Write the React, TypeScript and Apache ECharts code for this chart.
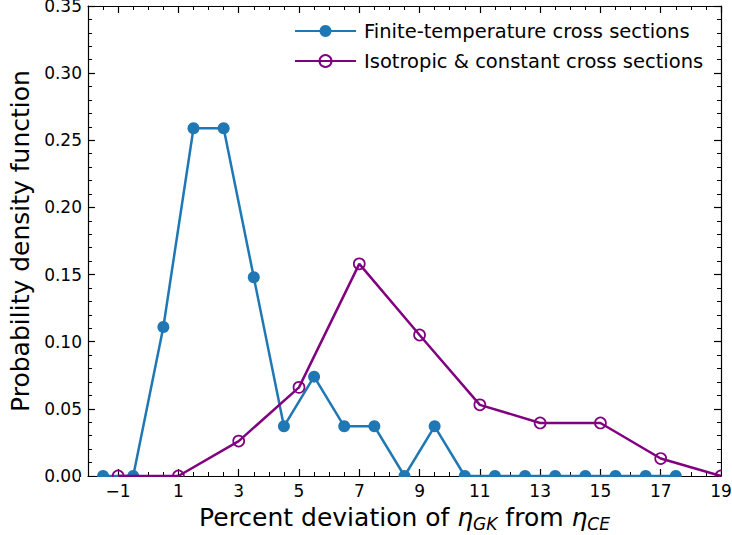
import React, { useEffect, useRef } from 'react';
import * as echarts from 'echarts';

const finiteX = [-1.5, -0.5, 0.5, 1.5, 2.5, 3.5, 4.5, 5.5, 6.5, 7.5, 8.5, 9.5, 10.5, 11.5, 12.5, 13.5, 14.5, 15.5, 16.5, 17.5];
const finiteY = [0, 0, 0.111, 0.259, 0.259, 0.148, 0.037, 0.074, 0.037, 0.037, 0, 0.037, 0, 0, 0, 0, 0, 0, 0, 0];
const isoX = [-1, 1, 3, 5, 7, 9, 11, 13, 15, 17, 19];
const isoY = [0, 0, 0.026, 0.066, 0.158, 0.105, 0.053, 0.0395, 0.0395, 0.013, 0];
const xTickLabels = [-1, 1, 3, 5, 7, 9, 11, 13, 15, 17, 19];

const FONT = 'DejaVu Sans';
const BLUE = '#1f77b4';
const PURPLE = '#800080';

export default function App() {
  const ref = useRef<HTMLDivElement>(null);
  useEffect(() => {
    if (!ref.current) return;
    const chart = echarts.init(ref.current, undefined, { renderer: 'svg' });
    const majorX = (position: 'bottom' | 'top', labels: boolean) => ({
      type: 'value',
      position,
      min: -2,
      max: 19,
      interval: 1,
      axisLine: { show: true, onZero: false, lineStyle: { color: '#000', width: 1.2 } },
      axisTick: { show: true, inside: true, length: 7, customValues: xTickLabels, lineStyle: { color: '#000', width: 1.2 } },
      axisLabel: {
        show: labels,
        customValues: xTickLabels,
        margin: 6,
        fontSize: 17,
        fontFamily: FONT,
        color: '#000',
        formatter: (v: number) => (v < 0 ? '\u2212' + Math.abs(v) : String(v)),
      },
      splitLine: { show: false },
    });
    const minorX = (position: 'bottom' | 'top') => ({
      type: 'value',
      position,
      min: -2,
      max: 19,
      interval: 0.5,
      axisLine: { show: false, onZero: false },
      axisTick: { show: true, inside: true, length: 4, lineStyle: { color: '#000', width: 1 } },
      axisLabel: { show: false },
      splitLine: { show: false },
    });
    const yAx = (position: 'left' | 'right', labels: boolean) => ({
      type: 'value',
      position,
      min: 0,
      max: 0.35,
      interval: 0.05,
      axisLine: { show: true, onZero: false, lineStyle: { color: '#000', width: 1.2 } },
      axisTick: { show: true, inside: true, length: 7, lineStyle: { color: '#000', width: 1.2 } },
      minorTick: { show: true, splitNumber: 5, length: 4, lineStyle: { color: '#000', width: 1 } },
      axisLabel: {
        show: labels,
        margin: 6,
        fontSize: 17,
        fontFamily: FONT,
        color: '#000',
        formatter: (v: number) => v.toFixed(2),
      },
      splitLine: { show: false },
      ...(labels
        ? {
            name: 'Probability density function',
            nameLocation: 'middle',
            nameGap: 54,
            nameTextStyle: { fontSize: 25, fontFamily: FONT, color: '#000' },
          }
        : {}),
    });
    const xa0: any = majorX('bottom', true);
    xa0.name = 'Percent deviation of {i|η}{s|GK} from {i|η}{s|CE}';
    xa0.nameLocation = 'middle';
    xa0.nameGap = 27;
    xa0.nameTextStyle = {
      fontSize: 25,
      fontFamily: FONT,
      color: '#000',
      rich: {
        i: { fontSize: 25, fontFamily: FONT, fontStyle: 'italic', color: '#000' },
        s: { fontSize: 17, fontFamily: FONT, fontStyle: 'italic', color: '#000', padding: [12, 0, 0, 0] },
      },
    };
    const option: any = {
      animation: false,
      backgroundColor: '#fff',
      grid: { left: 88, right: 11, top: 6, bottom: 59, containLabel: false, outerBoundsMode: 'none' },
      xAxis: [xa0, minorX('bottom'), majorX('top', false), minorX('top')],
      yAxis: [yAx('left', true), yAx('right', false)],
      legend: {
        orient: 'vertical',
        left: 289,
        top: 16,
        itemWidth: 61,
        itemHeight: 15,
        itemGap: 10,
        textStyle: { fontSize: 19.5, fontFamily: FONT, color: '#000', padding: [0, 0, 0, 3] },
        data: ['Finite-temperature cross sections', 'Isotropic & constant cross sections'],
      },
      graphic: [
        { type: 'rect', z: 100, shape: { x: 80, y: 477, width: 652, height: 6 }, style: { fill: '#fff' } },
        { type: 'rect', z: 100, shape: { x: 722, y: 440, width: 10, height: 43 }, style: { fill: '#fff' } },
      ],
      series: [
        {
          name: 'Finite-temperature cross sections',
          type: 'line',
          xAxisIndex: 0,
          yAxisIndex: 0,
          data: finiteX.map((x, i) => [x, finiteY[i]]),
          symbol: 'circle',
          symbolSize: 12,
          lineStyle: { color: BLUE, width: 2.5 },
          itemStyle: { color: BLUE },
          clip: false,
          z: 2,
        },
        {
          name: 'Isotropic & constant cross sections',
          type: 'line',
          xAxisIndex: 0,
          yAxisIndex: 0,
          data: isoX.map((x, i) => [x, isoY[i]]),
          symbol: 'circle',
          symbolSize: 11,
          lineStyle: { color: PURPLE, width: 2.5 },
          itemStyle: { color: 'transparent', borderColor: PURPLE, borderWidth: 1.7 },
          clip: false,
          z: 3,
        },
      ],
    };
    chart.setOption(option);
    return () => chart.dispose();
  }, []);
  return <div ref={ref} style={{ position: 'fixed', left: 0, top: 0, width: 732, height: 535 }} />;
}
